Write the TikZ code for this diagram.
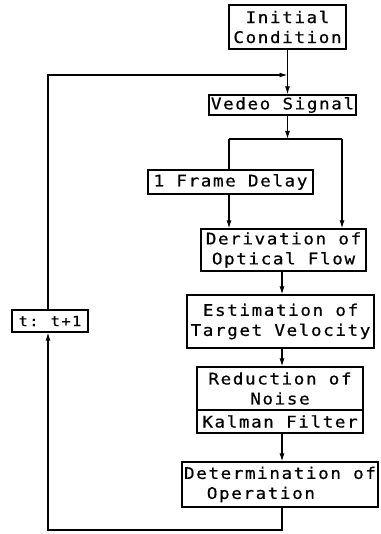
\documentclass[tikz,border=0pt]{standalone}
\usepackage{fontspec}
\newfontfamily\plotfont[FakeStretch=1.1,LetterSpace=10,FakeBold=0.6]{DejaVu Sans Mono}
\usetikzlibrary{arrows.meta}
\begin{document}
\begin{tikzpicture}[x=1pt,y=-1pt,
  box/.style={draw,line width=1.2pt,inner sep=0pt,align=center,
    font=\plotfont\fontsize{16}{20}\selectfont},
  conn/.style={line width=1.2pt},
  arr/.style={conn,-{Latex[length=8pt,width=5pt]}}]
\useasboundingbox (0,0) rectangle (380,534);
\node[box,minimum width=117pt,minimum height=44pt] (ic) at (287.5,27) {Initial\\Condition};
\node[box,minimum width=147pt,minimum height=20pt] (vs) at (282.5,105) {Vedeo Signal};
\node[box,minimum width=165pt,minimum height=24pt] (fd) at (230.5,182) {1 Frame Delay};
\node[box,minimum width=165pt,minimum height=42pt] (dv) at (283.5,250) {Derivation of\\Optical Flow};
\node[box,minimum width=187pt,minimum height=53pt] (es) at (280.5,321.5) {Estimation of\\Target Velocity};
\node[box,minimum width=166pt,minimum height=43pt] (rd) at (280,388.5) {Reduction of\\Noise};
\node[box,minimum width=166pt,minimum height=23pt] (kf) at (280,421.5) {Kalman Filter};
\node[box,minimum width=196pt,minimum height=45pt,align=left] (dt) at (280,484.5) {Determination of\\\phantom{De}Operation};
\node[box,minimum width=76pt,minimum height=22pt,font=\plotfont\fontsize{14}{18}\selectfont] (tt) at (50,321) {t:\hspace{-0.15em} t+1};
\coordinate (split) at (287.5,139);
\coordinate (sl) at (229,139);
\coordinate (sr) at (342,139);
\coordinate (tr) at (282,0);
\coordinate (bl) at (48,530);
\coordinate (tl) at (48,75);
\draw[arr] (ic.south) -- (ic.south |- vs.north);
\draw[arr] (vs.south -| ic.south) -- (split);
\draw[conn] (sl) -- (sr);
\draw[conn] (sl) -- (sl |- fd.north);
\draw[arr] (fd.south -| sl) -- (sl |- dv.north);
\draw[arr] (sr) -- (sr |- dv.north);
\draw[arr] (dv.south -| tr) -- (es.north -| tr);
\draw[arr] (es.south -| tr) -- (rd.north -| tr);
\draw[arr] (kf.south -| tr) -- (dt.north -| tr);
\draw[arr] (dt.south -| tr) -- (tr |- bl) -- (bl) -- (tt.south -| bl);
\draw[arr] (tt.north -| bl) -- (tl) -- (tl -| ic.south);
\end{tikzpicture}
\end{document}
